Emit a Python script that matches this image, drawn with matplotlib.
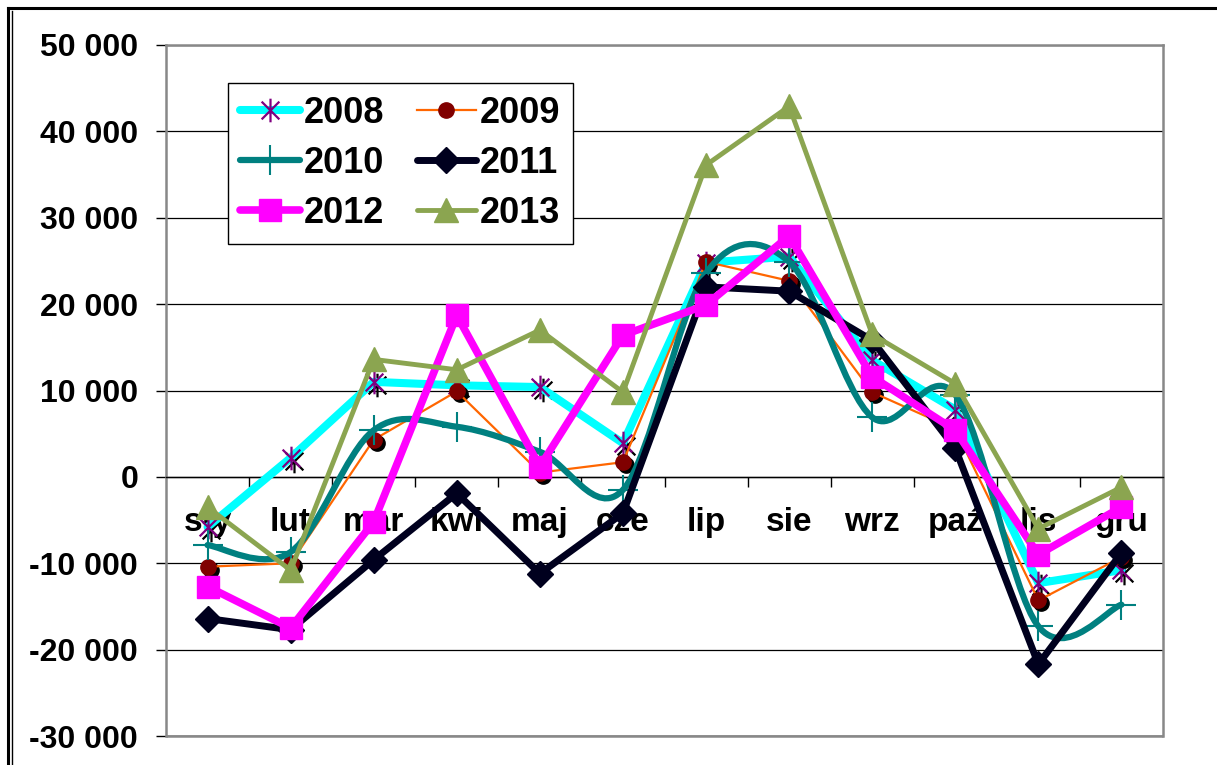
import numpy as np
import matplotlib.pyplot as plt
import matplotlib.transforms as mtransforms
from matplotlib.path import Path
from matplotlib.patches import PathPatch, Rectangle
from matplotlib.lines import Line2D
from matplotlib.ticker import FuncFormatter, FixedLocator

months = ['sty', 'lut', 'mar', 'kwi', 'maj', 'cze', 'lip', 'sie', 'wrz', 'paź', 'lis', 'gru']

y2008 = [-5800, 2200, 11000, 10600, 10400, 3900, 24800, 25500, 13500, 7800, -12300, -10800]
y2009 = [-10400, -10000, 4300, 9900, 500, 1700, 24900, 22700, 9800, 5500, -14300, -9300]
y2010 = [-7900, -8700, 5400, 5800, 2900, -1500, 23600, 24900, 6900, 9500, -17300, -14800]
y2011 = [-16400, -17700, -9600, -1900, -11200, -4200, 22000, 21500, 15800, 3300, -21700, -8800]
y2012 = [-12700, -17500, -5200, 18700, 1200, 16400, 19900, 27900, 11600, 5400, -9000, -3500]
y2013 = [-3500, -10800, 13600, 12400, 17000, 9800, 36100, 42900, 16500, 10800, -6000, -1200]

plt.rcParams['font.family'] = ['Liberation Sans', 'DejaVu Sans']
plt.rcParams['font.weight'] = 'bold'

fig = plt.figure(figsize=(12.17, 7.65), dpi=100)
ax = fig.add_axes([166/1217, 1 - 736/765, 997/1217, 691/765])

x = np.arange(len(months))

# excel-like asterisk: an X with a vertical bar
star = Path([(-0.75, -0.75), (0.75, 0.75), (-0.75, 0.75), (0.75, -0.75), (0, -1), (0, 1)],
            [Path.MOVETO, Path.LINETO, Path.MOVETO, Path.LINETO, Path.MOVETO, Path.LINETO])

# shadows behind the 2008 / 2009 markers
shadow = mtransforms.offset_copy(ax.transData, fig=fig, x=3, y=-3, units='dots')

l08, = ax.plot(x, y2008, color='#00FFFF', lw=5.8, marker=star, ms=17,
               mec='#800080', mew=1.6, solid_capstyle='round', zorder=3)
ax.plot(x, y2008, ls='none', marker=star, ms=17, mec='black', mew=1.6,
        transform=shadow, zorder=2.9)

ax.plot(x, y2009, ls='none', marker='o', ms=11, mfc='black', mec='black',
        transform=shadow, zorder=3.9)
l09, = ax.plot(x, y2009, color='#FF6600', lw=1.6, marker='o', ms=11,
               mfc='#800000', mec='#800000', zorder=4)

# 2010 drawn as smoothed line (Excel style bezier through the points)
pts = np.column_stack([x, y2010]).astype(float)
verts = [pts[0]]
codes = [Path.MOVETO]
n = len(pts)
for i in range(n - 1):
    p0 = pts[max(i - 1, 0)]
    p1 = pts[i]
    p2 = pts[i + 1]
    p3 = pts[min(i + 2, n - 1)]
    verts += [p1 + (p2 - p0) / 6, p2 - (p3 - p1) / 6, p2]
    codes += [Path.CURVE4] * 3
ax.add_patch(PathPatch(Path(verts, codes), fill=False, edgecolor='#008080',
                       lw=4.5, capstyle='round', zorder=5))
ax.plot(x, y2010, ls='none', marker='+', ms=22, mec='#008080', mew=1.5, zorder=5)
l10 = Line2D([], [], color='#008080', lw=4.5, marker='+', ms=22, mew=1.5,
             solid_capstyle='round')

l11, = ax.plot(x, y2011, color='#00001E', lw=5, marker='D', ms=13,
               solid_capstyle='round', zorder=6)
l12, = ax.plot(x, y2012, color='#FF00FF', lw=5.5, marker='s', ms=16,
               solid_capstyle='round', zorder=7)
l13, = ax.plot(x, y2013, color='#8BA550', lw=3.5, marker='^', ms=17,
               solid_capstyle='round', zorder=8)

ax.set_xlim(-0.5, len(months) - 0.5)
ax.set_ylim(-30000, 50000)
ax.set_yticks(np.arange(-30000, 50001, 10000))
ax.yaxis.set_major_formatter(FuncFormatter(lambda v, p: f"{v:,.0f}".replace(",", " ")))
ax.grid(axis='y', color='black', lw=0.9)
ax.set_axisbelow(True)

for s in ['left', 'right', 'top']:
    ax.spines[s].set_color('#888888')
    ax.spines[s].set_linewidth(1.8)
ax.spines['bottom'].set_position(('data', 0))
ax.spines['bottom'].set_color('black')
ax.spines['bottom'].set_linewidth(1.0)
ax.add_patch(Rectangle((0, 0), 1, 0, transform=ax.transAxes, fill=False,
                       edgecolor='#888888', lw=1.8, clip_on=False, zorder=0.4))

ax.set_xticks(x)
ax.set_xticklabels(months, fontsize=24, fontweight='bold')
ax.xaxis.set_minor_locator(FixedLocator(np.arange(0.5, len(months) - 1, 1)))
ax.tick_params(axis='x', which='major', length=0, pad=22)
ax.tick_params(axis='x', which='minor', length=7, width=1, color='black', direction='out')
ax.tick_params(axis='y', length=7, width=1, color='black', pad=13, labelsize=23)

leg = ax.legend([l08, l10, l12, l09, l11, l13],
                ['2008', '2010', '2012', '2009', '2011', '2013'],
                ncol=2, loc='upper left', bbox_to_anchor=(0.062, 0.945),
                borderaxespad=0, fontsize=26, handlelength=1.65,
                handletextpad=0.1, columnspacing=0.9, labelspacing=0.42,
                borderpad=0.35, fancybox=False, framealpha=1,
                edgecolor='black')
leg.get_frame().set_linewidth(1.0)
leg.set_zorder(10)

# outer chart frame (top and double left line)
fig.add_artist(Line2D([8/1217, 1], [1 - 8/765, 1 - 8/765], color='black', lw=2.2,
                      transform=fig.transFigure))
fig.add_artist(Line2D([8/1217, 8/1217], [0, 1 - 8/765], color='black', lw=2.2,
                      transform=fig.transFigure))
fig.add_artist(Line2D([12/1217, 12/1217], [0, 1 - 11/765], color='black', lw=1.0,
                      transform=fig.transFigure))

fig.savefig('out.png', dpi=100)
